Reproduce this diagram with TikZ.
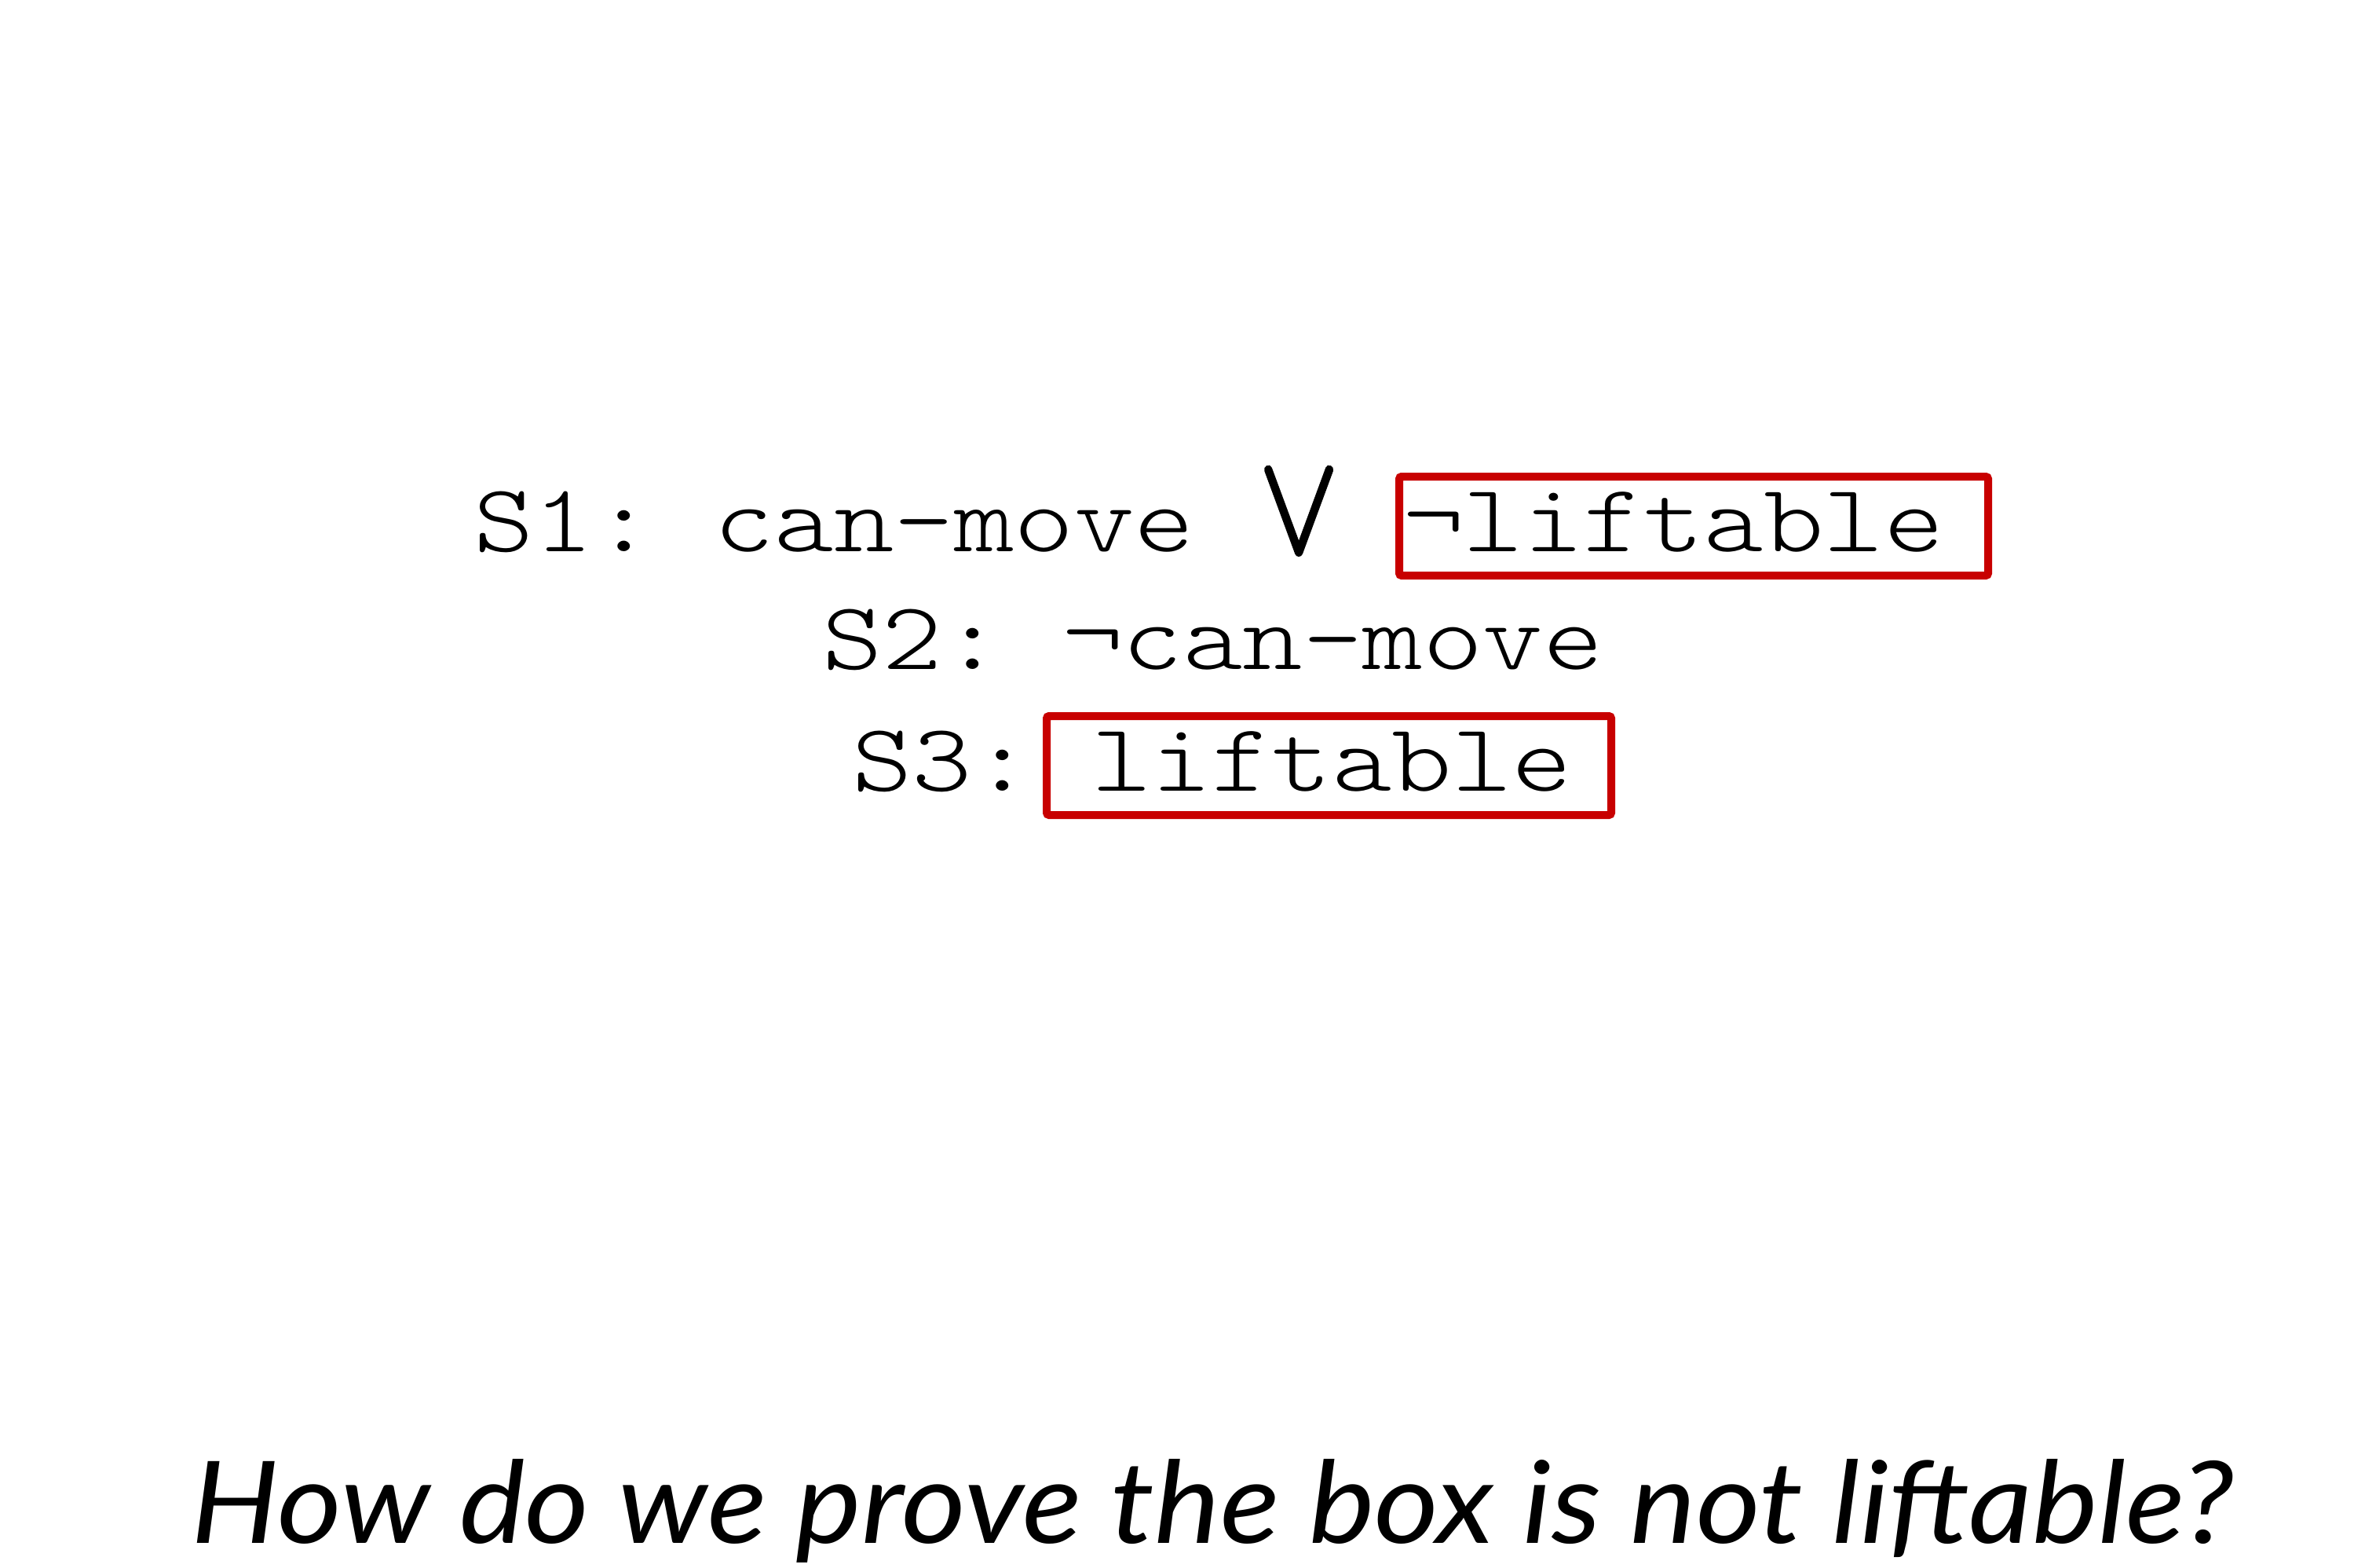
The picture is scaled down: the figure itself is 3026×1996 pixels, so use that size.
\documentclass[tikz,border=0pt]{standalone}
\usepackage{fontspec}
\usepackage{graphicx}
\newfontfamily\cour[FakeStretch=1.185]{lmmonolt10-regular.otf}
\newfontfamily\mathsym[FakeBold=2.5]{latinmodern-math.otf}
\newfontfamily\handfont{Lato Italic}
\definecolor{boxred}{RGB}{200,0,0}
\tikzset{
  mono/.style={inner sep=0pt, anchor=base west, font=\fontsize{123pt}{130pt}\cour\frenchspacing},
  redbox/.style={draw=boxred, line width=10pt, rounded corners=3pt},
}
\begin{document}
\begin{tikzpicture}[x=1pt,y=-1pt]
\useasboundingbox[fill=white] (0,0) rectangle (3026,1996);
% line 1
\node[mono] (s1) at (603,702) {S1: can-move};
\node[inner sep=0pt, anchor=base west, font=\fontsize{180pt}{190pt}\mathsym] (or) at (1601,703) {\scalebox{0.88}[1]{∨}};
\node[mono] (l1) at (1787,702) {¬liftable};
\draw[redbox] (1782,607) rectangle (2532,733);
% line 2
\node[mono] (s2) at (1047,852) {S2: ¬can-move};
% line 3
\node[mono] (s3) at (1085,1007) {S3:};
\node[mono] (l3) at (1390,1007) {liftable};
\draw[redbox] (1333,912) rectangle (2052,1038);
% question
\node[inner sep=0pt, anchor=base west] (q) at (243,1965) {\resizebox{2600pt}{107pt}{\handfont How do we prove the box is not liftable?}};
\end{tikzpicture}
\end{document}
